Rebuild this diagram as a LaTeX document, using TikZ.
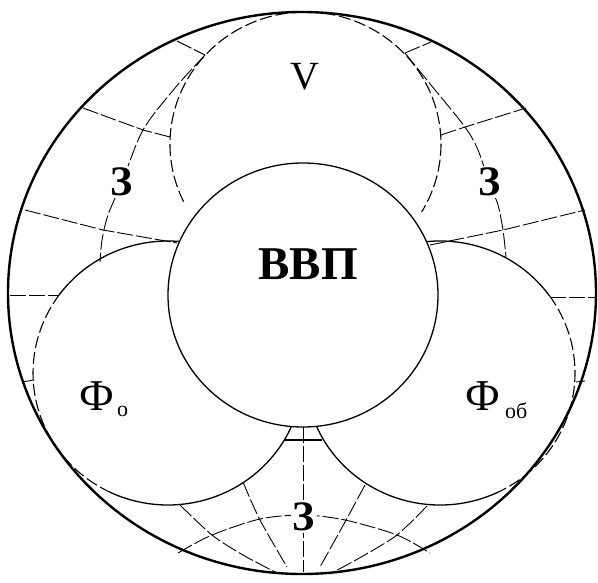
\documentclass[tikz,border=0pt]{standalone}
\usepackage{fontspec}
\setmainfont{Liberation Serif}
\begin{document}
\begin{tikzpicture}[x=1pt,y=-1pt,
  outerc/.style={line width=2.4pt},
  mainc/.style={line width=1.3pt},
  meshl/.style={line width=0.9pt, dash pattern=on 16pt off 3pt},
  dashc/.style={line width=1.1pt, dash pattern=on 12pt off 4pt},
  lab/.style={inner sep=2pt, fill=white}]
\useasboundingbox (0,0) rectangle (598,583);
% outer circle
\draw[outerc] (302,293) ellipse [x radius=294, y radius=281];
% V circle (dashed)
\draw[dashc] (305.5,144) ++(154:135.5 and 132) arc[start angle=154, end angle=391, x radius=135.5, y radius=132];
% mesh upper left
\draw[meshl] plot[smooth] coordinates {(205,55) (175,88) (143,130) (122,182) (108,215) (102,240) (100,262)};
\draw[meshl] (177,41) -- (205,55);
\draw[meshl] (83,108) -- (143,130) -- (170,137);
\draw[meshl] (25,210) -- (103,230) -- (177,243);
\draw[meshl] (10,295) -- (59,295);
\draw[meshl] (22,382) -- (34,380);
% mesh upper right
\draw[meshl] plot[smooth] coordinates {(405,53) (431,85) (465,127) (478,150) (489,182) (498,205) (503,230) (506,257)};
\draw[meshl] (405,53) -- (431,42);
\draw[meshl] (441,135) -- (465,127) -- (526,108);
\draw[meshl] (430,245) -- (503,230) -- (585,210);
\draw[meshl] (550,297) -- (596,297);
\draw[meshl] (576,382) -- (585,381);
% mesh bottom
\draw[meshl] (303,427) -- (303,572);
\draw[meshl] plot[smooth] coordinates {(180,505) (212,535) (243,555) (277,573)};
\draw[meshl] plot[smooth] coordinates {(427,506) (397,535) (363,556) (330,574)};
\draw[meshl] plot[smooth] coordinates {(243,482) (260,520) (287,567)};
\draw[meshl] plot[smooth] coordinates {(365,485) (345,522) (320,567)};
\draw[meshl] plot[smooth] coordinates {(178,553) (212,535) (260,519) (303,515) (345,520) (397,535) (430,553)};
\draw[mainc] (284,440) -- (322,440);
% left circle
\draw[mainc] (168,373) ++(216:135 and 132) arc[start angle=216, end angle=475, x radius=135, y radius=132];
\draw[dashc] (168,373) ++(115:135 and 132) arc[start angle=115, end angle=216, x radius=135, y radius=132];
% right circle
\draw[mainc] (440,373) ++(65:135 and 132) arc[start angle=65, end angle=324, x radius=135, y radius=132];
\draw[dashc] (440,373) ++(-36:135 and 132) arc[start angle=-36, end angle=65, x radius=135, y radius=132];
% central circle
\draw[mainc, fill=white] (303,295) ellipse [x radius=135, y radius=132];
% labels
\node (vvp) at (308,264) {\fontsize{47}{47}\selectfont\bfseries ВВП};
\node (v) at (305,77) {\fontsize{40}{40}\selectfont V};
\node[lab] (zl) at (122,182) {\fontsize{42}{42}\selectfont\bfseries З};
\node[lab] (zr) at (490,182) {\fontsize{42}{42}\selectfont\bfseries З};
\node[lab] (zb) at (304,517) {\fontsize{42}{42}\selectfont\bfseries З};
\node (fl) at (97,396) {\fontsize{44}{44}\selectfont Ф};
\node[anchor=west, inner sep=0pt] (fls) at (117,411) {\fontsize{22}{22}\selectfont о};
\node (fr) at (483,396) {\fontsize{44}{44}\selectfont Ф};
\node[anchor=west, inner sep=0pt] (frs) at (505,411) {\fontsize{22}{22}\selectfont об};
\end{tikzpicture}
\end{document}
